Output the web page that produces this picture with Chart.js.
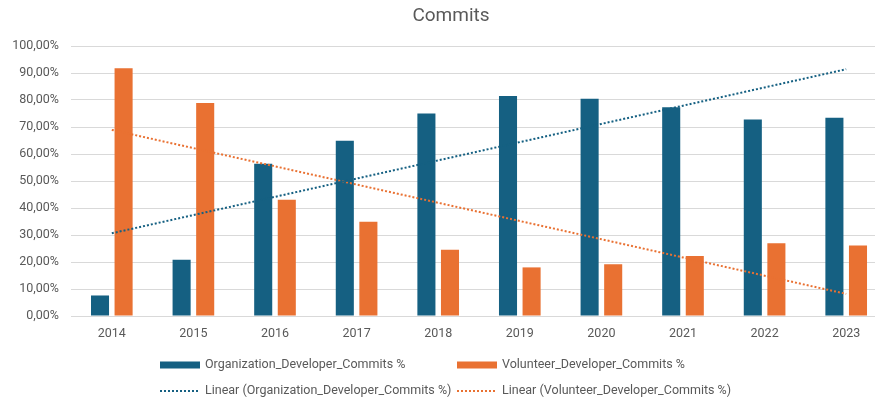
<!DOCTYPE html>
<html lang="fr">
<head>
<meta charset="UTF-8">
<title>Commits</title>
<script src="https://cdn.jsdelivr.net/npm/chart.js@4.4.1/dist/chart.umd.min.js"></script>
<style>
    html, body { margin: 0; padding: 0; background: #ffffff; overflow: hidden; }
    #commits-chart { display: block; }
</style>
</head>
<body>
<canvas id="commits-chart" width="900" height="401"></canvas>
<script>
// Données du graphique
const years = ['2014', '2015', '2016', '2017', '2018', '2019', '2020', '2021', '2022', '2023'];
const organizationCommits = [7.6, 20.8, 56.4, 64.9, 75.0, 81.5, 80.5, 77.3, 72.8, 73.4];
const volunteerCommits = [91.8, 78.9, 43.1, 34.9, 24.5, 18.0, 19.2, 22.2, 26.9, 26.1];
const yTicks = [0, 10, 20, 30, 40, 50, 60, 70, 80, 90, 100];

const BLUE = '#156082';
const ORANGE = '#E97132';
const TEXT_COLOR = '#595959';
const FONT = 'Roboto, "Noto Sans", sans-serif';

// Courbe de tendance linéaire (moindres carrés)
function linearTrend(values) {
    const n = values.length;
    const meanX = (n - 1) / 2;
    const meanY = values.reduce((a, b) => a + b, 0) / n;
    let sxy = 0;
    let sxx = 0;
    values.forEach((y, x) => {
        sxy += (x - meanX) * (y - meanY);
        sxx += (x - meanX) * (x - meanX);
    });
    const slope = sxy / sxx;
    return values.map((_, x) => meanY + slope * (x - meanX));
}

// Format des pourcentages à la française
function formatPercent(value) {
    return value.toFixed(2).replace('.', ',') + '%';
}

// Titre et légende dessinés à la main (légende en grille sur deux colonnes)
const decorPlugin = {
    id: 'decor',
    afterDraw(chart) {
        const ctx = chart.ctx;
        ctx.save();

        ctx.fillStyle = TEXT_COLOR;
        ctx.font = `19px ${FONT}`;
        ctx.textAlign = 'center';
        ctx.textBaseline = 'middle';
        ctx.fillText('Commits', 451, 16);

        const columns = [160, 457];
        const rows = [365, 391];
        ctx.font = `12.5px ${FONT}`;
        ctx.textAlign = 'left';

        chart.data.datasets.forEach((ds, i) => {
            const x = columns[i % 2];
            const y = rows[Math.floor(i / 2)];
            if (ds.type === 'line') {
                ctx.strokeStyle = ds.borderColor;
                ctx.lineWidth = 2;
                ctx.setLineDash([2, 2]);
                ctx.beginPath();
                ctx.moveTo(x, y);
                ctx.lineTo(x + 39, y);
                ctx.stroke();
                ctx.setLineDash([]);
            } else {
                ctx.fillStyle = ds.backgroundColor;
                ctx.fillRect(x, y - 3.5, 40, 7);
            }
            ctx.fillStyle = TEXT_COLOR;
            ctx.fillText(ds.label, x + 45, y);
        });

        ctx.restore();
    }
};

const ctx = document.getElementById('commits-chart').getContext('2d');
new Chart(ctx, {
    data: {
        labels: years,
        datasets: [
            {
                type: 'bar',
                label: 'Organization_Developer_Commits %',
                data: organizationCommits,
                backgroundColor: BLUE,
                categoryPercentage: 0.578,
                barPercentage: 0.766,
                order: 2
            },
            {
                type: 'bar',
                label: 'Volunteer_Developer_Commits %',
                data: volunteerCommits,
                backgroundColor: ORANGE,
                categoryPercentage: 0.578,
                barPercentage: 0.766,
                order: 2
            },
            {
                type: 'line',
                label: 'Linear (Organization_Developer_Commits %)',
                data: linearTrend(organizationCommits),
                borderColor: BLUE,
                borderWidth: 2,
                borderDash: [2, 2],
                pointRadius: 0,
                fill: false,
                order: 1
            },
            {
                type: 'line',
                label: 'Linear (Volunteer_Developer_Commits %)',
                data: linearTrend(volunteerCommits),
                borderColor: ORANGE,
                borderWidth: 2,
                borderDash: [2, 2],
                pointRadius: 0,
                fill: false,
                order: 1
            }
        ]
    },
    options: {
        responsive: false,
        animation: false,
        layout: {
            padding: { top: 46, right: 13, bottom: 0, left: 0 }
        },
        plugins: {
            legend: { display: false },
            title: { display: false },
            tooltip: { enabled: false }
        },
        scales: {
            x: {
                grid: { display: false, drawTicks: false },
                border: { display: false },
                ticks: {
                    color: TEXT_COLOR,
                    font: { family: FONT, size: 12.5 },
                    padding: 10
                },
                afterFit(scale) {
                    scale.height = 85;
                }
            },
            y: {
                min: 0,
                max: 100,
                afterBuildTicks(scale) {
                    scale.ticks = yTicks.map(v => ({ value: v }));
                },
                grid: { color: '#d9d9d9', drawTicks: false },
                border: { display: false },
                ticks: {
                    color: TEXT_COLOR,
                    font: { family: FONT, size: 12.5 },
                    padding: 12,
                    callback: (value) => formatPercent(value)
                },
                afterFit(scale) {
                    scale.width = 71;
                }
            }
        }
    },
    plugins: [decorPlugin]
});
</script>
</body>
</html>
